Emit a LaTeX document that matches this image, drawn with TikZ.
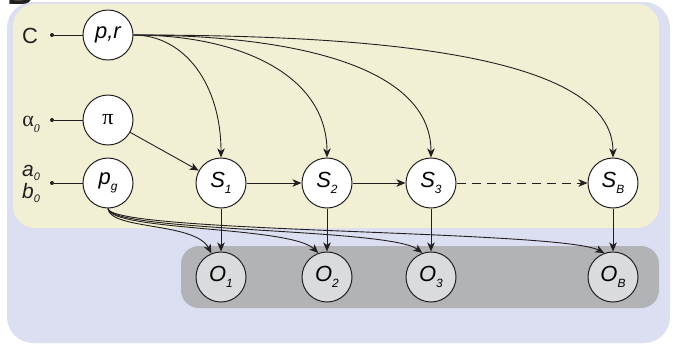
\documentclass[tikz,border=0pt]{standalone}
\usepackage{fontspec}
\setmainfont{Liberation Sans}
\newfontfamily\serifgreek{Liberation Serif}
\usetikzlibrary{arrows.meta}
\definecolor{lavbg}{HTML}{DCDFF1}
\definecolor{creambg}{HTML}{F2F0D4}
\definecolor{graybg}{HTML}{B1B3B6}
\definecolor{obsfill}{HTML}{DADBDC}
\definecolor{inkc}{HTML}{231F20}
\newcommand\lowsub[1]{\raisebox{-6bp}{\fontsize{12}{12}\selectfont\itshape #1}}
\newcommand\lowsubs[1]{\raisebox{-4bp}{\fontsize{11}{11}\selectfont\itshape #1}}
\tikzset{
  varnode/.style={circle, draw=inkc, line width=1bp, fill=white, minimum size=50bp, inner sep=0pt,
    font=\fontsize{22}{22}\selectfont},
  obsnode/.style={varnode, fill=obsfill},
  conn/.style={draw=inkc, line width=0.9bp},
  arr/.style={conn, -{Stealth[length=9bp,width=7.5bp,inset=2.5bp]}},
  inlabel/.style={font=\fontsize{22}{22}\selectfont, text=inkc, inner sep=0pt},
  dotc/.style={circle, fill=inkc, inner sep=0pt, minimum size=4bp}
}
\begin{document}
\begin{tikzpicture}[x=1bp,y=-1bp]
\useasboundingbox (0,0) rectangle (675,346);
\fill[white] (0,0) rectangle (675,346);
% backgrounds
\fill[lavbg, rounded corners=26bp] (7,2) rectangle (670,343);
\fill[creambg, rounded corners=22bp] (13,4) rectangle (659,228);
\fill[graybg, rounded corners=18bp] (181,246) rectangle (659,308);
% panel letter (cut off by the page edge, as in the reference)
\node[anchor=base west, inner sep=0pt, font=\bfseries\fontsize{36}{36}\selectfont, text=inkc] (panel) at (7,4) {B};
% nodes
\node[varnode] (pr) at (108,35) {\itshape p,r};
\node[varnode] (pi) at (108,120) {\serifgreek π};
\node[varnode] (pg) at (108,183) {\itshape p\lowsub{g}};
\node[varnode] (s1) at (221,183) {\itshape S\lowsub{1}};
\node[varnode] (s2) at (327,183) {\itshape S\lowsub{2}};
\node[varnode] (s3) at (431,183) {\itshape S\lowsub{3}};
\node[varnode] (sb) at (613,183) {\itshape S\lowsub{B}};
\node[obsnode] (o1) at (221,277) {\itshape O\lowsub{1}};
\node[obsnode] (o2) at (327,277) {\itshape O\lowsub{2}};
\node[obsnode] (o3) at (431,277) {\itshape O\lowsub{3}};
\node[obsnode] (ob) at (613,277) {\itshape O\lowsub{B}};
% inputs
\node[dotc] (dc) at (52,35) {};
\node[dotc] (da) at (52,120) {};
\node[dotc] (dab) at (52,183) {};
\node[inlabel, anchor=base] (lc) at (30,43) {C};
\node[inlabel, anchor=base] (la) at (31,126) {\serifgreek α\lowsub{0}};
\node[inlabel, anchor=base, font=\fontsize{21}{21}\selectfont\itshape] (la0) at (31,176) {a\lowsubs{0}};
\node[inlabel, anchor=base, font=\fontsize{21}{21}\selectfont\itshape] (lb0) at (31,198) {b\lowsubs{0}};
\draw[conn] (dc) -- (pr);
\draw[conn] (da) -- (pi);
\draw[conn] (dab) -- (pg);
% p,r to states
\draw[arr] (pr.east) .. controls (185,35) and (221,85) .. (s1.north);
\draw[arr] (pr.east) .. controls (240,35) and (327,75) .. (s2.north);
\draw[arr] (pr.east) .. controls (290,35) and (431,65) .. (s3.north);
\draw[arr] (pr.east) .. controls (380,35) and (613,55) .. (sb.north);
% pi to S1
\draw[arr] (pi) -- (s1);
% chain
\draw[arr] (s1) -- (s2);
\draw[arr] (s2) -- (s3);
\draw[arr, dash pattern=on 9bp off 6bp] (s3) -- (sb);
% emissions
\draw[arr] (s1) -- (o1);
\draw[arr] (s2) -- (o2);
\draw[arr] (s3) -- (o3);
\draw[arr] (sb) -- (ob);
% p_g to observations
\draw[arr] (pg.south) .. controls (110,230) and (195,222) .. (o1.112);
\draw[arr] (pg.south) .. controls (110,231) and (290,226) .. (o2.110);
\draw[arr] (pg.south) .. controls (110,232) and (390,228) .. (o3.110);
\draw[arr] (pg.south) .. controls (110,233) and (560,230) .. (ob.110);
\end{tikzpicture}
\end{document}
